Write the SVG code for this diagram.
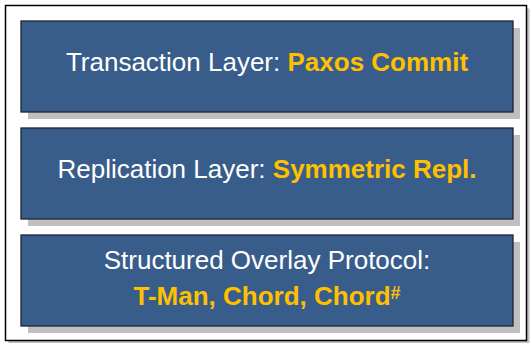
<svg xmlns="http://www.w3.org/2000/svg" width="530" height="343" viewBox="0 0 530 343">
<style>
.frame{fill:#fff;stroke:#000;stroke-width:1.5}
.fshadow{fill:#c0c0c0}
.shadow{fill:#bfbfbf}
.box{fill:#385d8a;stroke:#1c2333;stroke-width:1.3}
.t{font-family:"Liberation Sans",Arial,sans-serif;font-size:26px;fill:#ffffff;text-anchor:middle}
.hl{font-weight:bold;fill:#ffc000}
</style>
<rect class="fshadow" x="8.5" y="8.5" width="521" height="335"/>
<rect class="frame" x="5.5" y="5.5" width="521" height="335"/>
<g id="transaction">
<rect class="shadow" x="28" y="28" width="492" height="91"/>
<rect class="box" x="21" y="21" width="492" height="91"/>
<text class="t" x="267" y="71">Transaction Layer: <tspan class="hl">Paxos Commit</tspan></text>
</g>
<g id="replication">
<rect class="shadow" x="28" y="135" width="492" height="91"/>
<rect class="box" x="21" y="128" width="492" height="91"/>
<text class="t" x="267" y="178">Replication Layer: <tspan class="hl">Symmetric Repl.</tspan></text>
</g>
<g id="overlay">
<rect class="shadow" x="28" y="242" width="492" height="91"/>
<rect class="box" x="21" y="235" width="492" height="91"/>
<text class="t" x="267" y="269">Structured Overlay Protocol:</text>
<text class="t" x="267" y="305"><tspan class="hl">T-Man, Chord, Chord</tspan><tspan class="hl" font-size="18" dy="-6">#</tspan></text>
</g>
<g id="connectors"></g>
</svg>
